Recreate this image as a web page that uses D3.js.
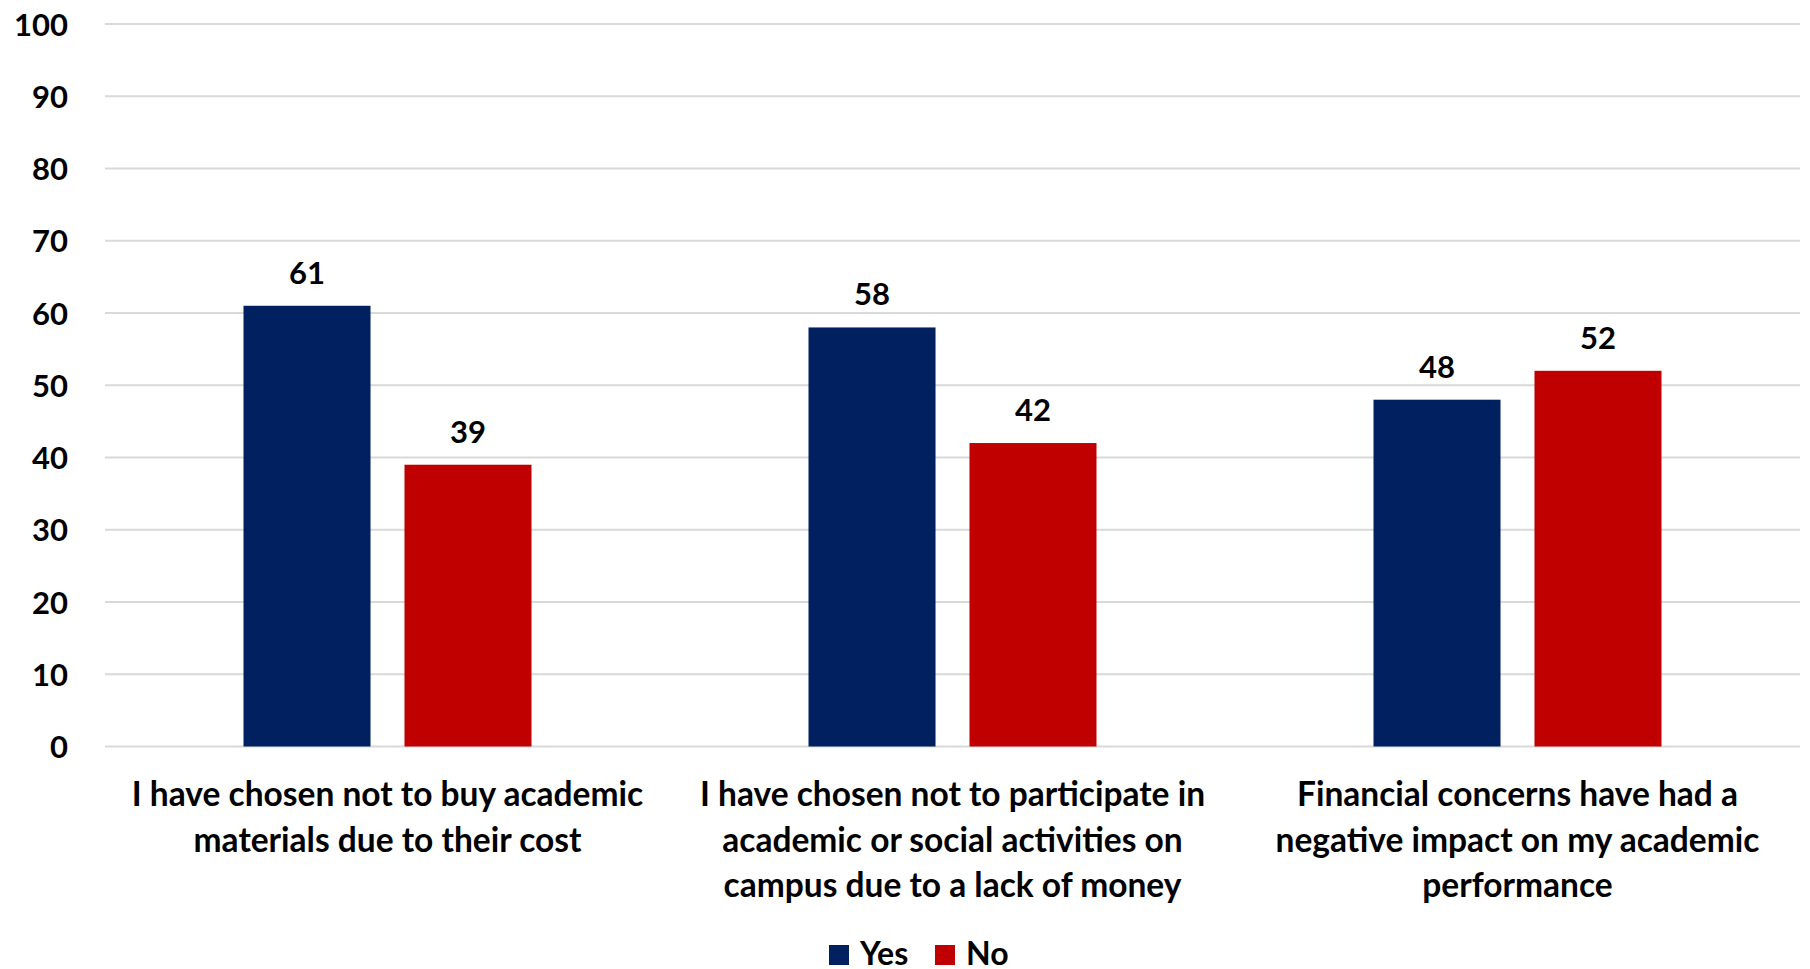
<!DOCTYPE html>
<html>
<head>
<meta charset="utf-8">
<script src="https://cdn.jsdelivr.net/npm/d3@7"></script>
<style>
  html, body { margin: 0; padding: 0; background: #fff; }
  svg text { font-family: Lato, "Open Sans", sans-serif; font-weight: 700; fill: #000; }
</style>
</head>
<body>
<svg id="chart" width="1810" height="969"></svg>
<script>
// Survey statements (one line per array entry)
const categories = [
  ["I have chosen not to buy academic", "materials due to their cost"],
  ["I have chosen not to participate in", "academic or social activities on", "campus due to a lack of money"],
  ["Financial concerns have had a", "negative impact on my academic", "performance"]
];
const seriesNames = ["Yes", "No"];
const yesValues = [61, 58, 48];
const noValues = [39, 42, 52];
const yTicks = [0, 10, 20, 30, 40, 50, 60, 70, 80, 90, 100];
const colors = { Yes: "#002060", No: "#C00000" };

const svg = d3.select("#chart");
const plot = { left: 105, right: 1800, top: 24, bottom: 746.5 };

const y = d3.scaleLinear().domain([0, 100]).range([plot.bottom, plot.top]);
const x0 = d3.scaleBand().domain(d3.range(categories.length)).range([plot.left, plot.right]).padding(0);
const groupW = 288;
const x1 = d3.scaleBand().domain(seriesNames)
  .range([(x0.bandwidth() - groupW) / 2, (x0.bandwidth() + groupW) / 2])
  .paddingInner(0.211).paddingOuter(0);

// Gridlines
svg.append("g")
  .selectAll("line").data(yTicks).join("line")
  .attr("x1", plot.left).attr("x2", plot.right)
  .attr("y1", d => y(d)).attr("y2", d => y(d))
  .attr("stroke", "#d9d9d9").attr("stroke-width", 2);

// Y axis labels
const yAxis = d3.axisLeft(y).tickValues(yTicks).tickSize(0).tickPadding(0);
const gy = svg.append("g").attr("transform", "translate(68,0)").call(yAxis);
gy.select(".domain").remove();
gy.selectAll("text").attr("font-size", 31).attr("dy", "0.36em")
  .style("font-family", "Lato, sans-serif").style("font-weight", 700).attr("fill", "#000");

// Bars
const rows = categories.map((c, i) => ({ i, Yes: yesValues[i], No: noValues[i] }));
const groups = svg.append("g").selectAll("g").data(rows).join("g")
  .attr("transform", d => `translate(${x0(d.i)},0)`);

groups.selectAll("rect").data(d => seriesNames.map(k => ({ k, v: d[k] }))).join("rect")
  .attr("x", d => x1(d.k)).attr("width", x1.bandwidth())
  .attr("y", d => y(d.v)).attr("height", d => y(0) - y(d.v))
  .attr("fill", d => colors[d.k]);

// Value labels
groups.selectAll("text.val").data(d => seriesNames.map(k => ({ k, v: d[k] }))).join("text")
  .attr("class", "val")
  .attr("x", d => x1(d.k) + x1.bandwidth() / 2)
  .attr("y", d => y(d.v) - 22)
  .attr("text-anchor", "middle").attr("font-size", 31)
  .text(d => d.v);

// Category labels
const cat = svg.append("g").selectAll("text").data(categories).join("text")
  .attr("x", (d, i) => x0(i) + x0.bandwidth() / 2)
  .attr("y", 806)
  .attr("text-anchor", "middle").attr("font-size", 33.5);
cat.selectAll("tspan").data(d => d).join("tspan")
  .attr("x", function () { return d3.select(this.parentNode).attr("x"); })
  .attr("dy", (d, j) => j === 0 ? 0 : 45.5)
  .text(d => d);

// Legend
const legend = svg.append("g");
const legendItems = [{ k: "Yes", x: 829 }, { k: "No", x: 935 }];
legend.selectAll("rect").data(legendItems).join("rect")
  .attr("x", d => d.x).attr("y", 945).attr("width", 20).attr("height", 20)
  .attr("fill", d => colors[d.k]);
legend.selectAll("text").data(legendItems).join("text")
  .attr("x", d => d.x + 31).attr("y", 965).attr("font-size", 32)
  .text(d => d.k);
</script>
</body>
</html>
